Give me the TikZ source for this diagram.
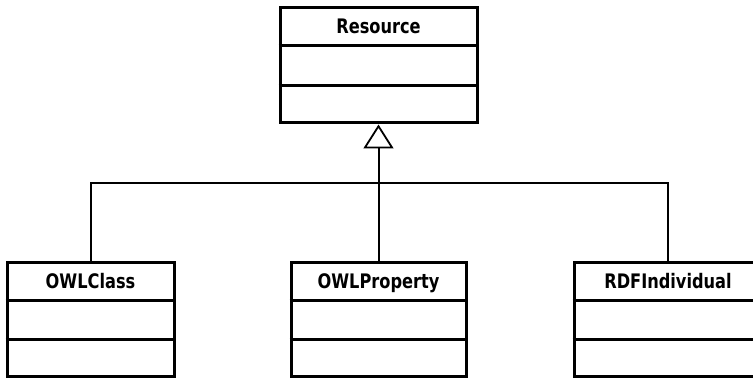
\documentclass[tikz,border=0pt]{standalone}
\usepackage{fontspec}
\usepackage{graphicx}
\newfontfamily\umlfont{DejaVu Sans Condensed}
\usetikzlibrary{arrows.meta,calc}
\tikzset{
  classbox/.style={draw=black, line width=3pt, fill=white, minimum height=115pt, inner sep=0pt},
  classname/.style={font=\umlfont\bfseries\fontsize{20}{24}\selectfont, text=black, inner sep=0pt, anchor=base},
  link/.style={draw=black, line width=2pt},
  inherit/.style={link, -{Triangle[open, length=24pt, width=30pt, line width=1.8pt]}}
}
% narrow setting for class names
\newcommand{\umlname}[1]{\scalebox{0.9}[1]{#1}}
% two horizontal rules splitting a class box into three compartments
\newcommand{\compartments}[1]{%
  \draw[line width=3pt] ($(#1.north west)!1/3!(#1.south west)$) -- ($(#1.north east)!1/3!(#1.south east)$);
  \draw[line width=3pt] ($(#1.north west)!2/3!(#1.south west)$) -- ($(#1.north east)!2/3!(#1.south east)$);
}
\begin{document}
\begin{tikzpicture}[x=1pt, y=1pt]
  \useasboundingbox (0,0) rectangle (753,379);
  \fill[white] (0,0) rectangle (753,379);

  % superclass
  \node[classbox, minimum width=197pt] (res) at (378.5, 313.5) {};
  \compartments{res}
  \node[classname] (resname) at ($(res.north)+(0,-27)$) {\umlname{Resource}};

  % subclasses
  \node[classbox, minimum width=167pt, minimum height=114pt] (cls) at (90.5, 59) {};
  \compartments{cls}
  \node[classname] (clsname) at ($(cls.north)+(0,-27)$) {\umlname{OWLClass}};

  \node[classbox, minimum width=175pt, minimum height=114pt] (prop) at (378.5, 59) {};
  \compartments{prop}
  \node[classname] (propname) at ($(prop.north)+(0,-27)$) {\umlname{OWLProperty}};

  \node[classbox, minimum width=188pt, minimum height=114pt] (rdf) at (668, 59) {};
  \compartments{rdf}
  \node[classname] (rdfname) at ($(rdf.north)+(0,-27)$) {\umlname{RDFIndividual}};

  % generalization tree
  \coordinate (junction) at (378.5, 196);
  \draw[link] (cls.north) |- (junction) -| (rdf.north);
  \draw[inherit] (prop.north) -- (res.south);
\end{tikzpicture}
\end{document}
